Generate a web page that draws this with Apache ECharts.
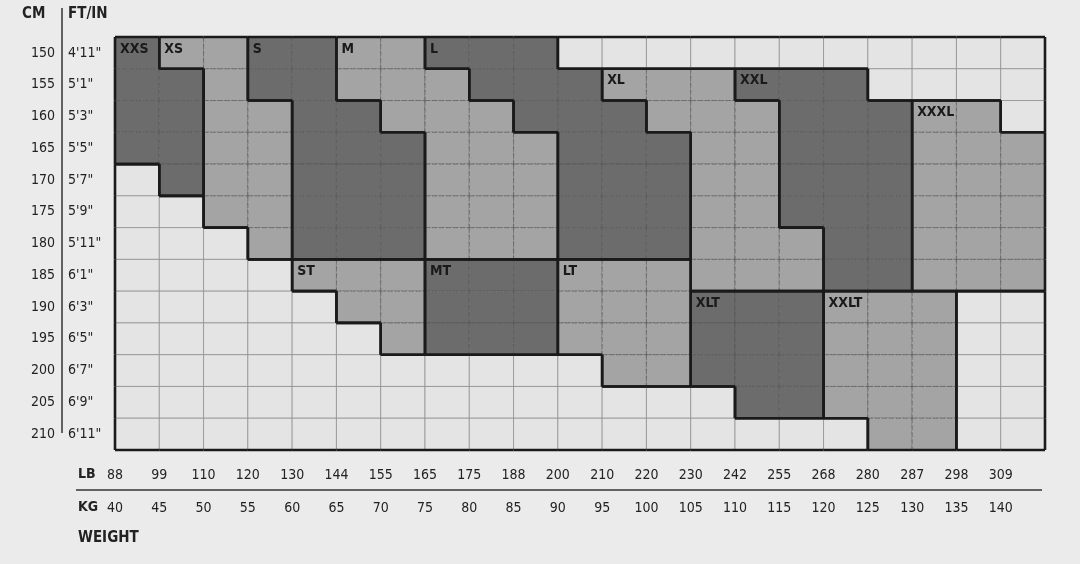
<!DOCTYPE html>
<html lang="en">
<head>
<meta charset="UTF-8">
<title>Size chart</title>
<script src="https://cdn.jsdelivr.net/npm/echarts@6/dist/echarts.min.js"></script>
<style>
  body { margin: 0; background: #ebebeb; }
  #main { width: 1080px; height: 564px; }
</style>
</head>
<body>
<div id="main"></div>
<script type="text/javascript">
var cmLabels = ['150','155','160','165','170','175','180','185','190','195','200','205','210'];
var ftLabels = ['4\'11"','5\'1"','5\'3"','5\'5"','5\'7"','5\'9"','5\'11"','6\'1"','6\'3"','6\'5"','6\'7"','6\'9"','6\'11"'];
var kgLabels = [40,45,50,55,60,65,70,75,80,85,90,95,100,105,110,115,120,125,130,135,140];
var lbLabels = [88,99,110,120,130,144,155,165,175,188,200,210,220,230,242,255,268,280,287,298,309];

// size regions: shade (1 = mid, 2 = dark), cells as [column, firstRow, lastRow]
var sizeNames = ['XXS','XS','S','M','L','XL','XXL','XXXL','ST','MT','LT','XLT','XXLT'];
var sizeShade = [2,1,2,1,2,1,2,1,1,2,1,2,1];
var sizeCells = [
  [[0,0,3],[1,1,4]],
  [[1,0,0],[2,0,5],[3,2,6]],
  [[3,0,1],[4,0,6],[5,2,6],[6,3,6]],
  [[5,0,1],[6,0,2],[7,1,6],[8,2,6],[9,3,6]],
  [[7,0,0],[8,0,1],[9,0,2],[10,1,6],[11,2,6],[12,3,6]],
  [[11,1,1],[12,1,2],[13,1,7],[14,2,7],[15,6,7]],
  [[14,1,1],[15,1,5],[16,1,7],[17,2,7]],
  [[18,2,7],[19,2,7],[20,3,7]],
  [[4,7,7],[5,7,8],[6,7,9]],
  [[7,7,9],[8,7,9],[9,7,9]],
  [[10,7,9],[11,7,10],[12,7,10]],
  [[13,8,10],[14,8,11],[15,8,11]],
  [[16,8,11],[17,8,12],[18,8,12]]
];

var nCols = kgLabels.length, nRows = cmLabels.length;
var owner = [];
for (var c = 0; c < nCols; c++) { owner.push([]); for (var r = 0; r < nRows; r++) owner[c].push(-1); }
sizeCells.forEach(function (list, k) {
  list.forEach(function (s) { for (var r = s[1]; r <= s[2]; r++) owner[s[0]][r] = k; });
});
var cells = [];
for (var c = 0; c < nCols; c++) for (var r = 0; r < nRows; r++) cells.push([c, r, owner[c][r]]);

var shadeColor = ['#e4e4e4', '#a4a4a4', '#6c6c6c'];
var font = 'DejaVu Sans Condensed, Roboto, sans-serif';

function getOwner(c, r) {
  if (c < 0 || r < 0 || c >= nCols || r >= nRows) return -2;
  return owner[c][r];
}

var myChart = echarts.init(document.getElementById('main'));
var option = {
  backgroundColor: '#ebebeb',
  animation: false,
  grid: { left: 115, right: 35, top: 37, bottom: 114 },
  xAxis: [
    { type: 'category', data: kgLabels, show: false },
    { type: 'value', min: 0, max: 21, interval: 1, position: 'bottom',
      axisLine: { show: false }, axisTick: { show: false }, splitLine: { show: false },
      axisLabel: { margin: 18, color: '#222', fontSize: 14, fontFamily: font,
        formatter: function (v) { return lbLabels[v] !== undefined ? lbLabels[v] : ''; } } },
    { type: 'value', min: 0, max: 21, interval: 1, position: 'bottom', offset: 33,
      axisLine: { show: false }, axisTick: { show: false }, splitLine: { show: false },
      axisLabel: { margin: 18, color: '#222', fontSize: 14, fontFamily: font,
        formatter: function (v) { return kgLabels[v] !== undefined ? kgLabels[v] : ''; } } }
  ],
  yAxis: [
    { type: 'category', data: cmLabels, inverse: true,
      axisLine: { show: false }, axisTick: { show: false },
      axisLabel: { margin: 60, fontSize: 14, color: '#222', fontFamily: font } },
    { type: 'category', data: ftLabels, inverse: true, position: 'left',
      axisLine: { show: false }, axisTick: { show: false },
      axisLabel: { margin: 47, align: 'left', fontSize: 14, color: '#222', fontFamily: font } }
  ],
  graphic: [
    { type: 'text', left: 22, top: 7, style: { text: 'CM', font: 'bold 15px "DejaVu Sans Condensed", sans-serif', fill: '#222' } },
    { type: 'text', left: 68, top: 7, style: { text: 'FT/IN', font: 'bold 15px "DejaVu Sans Condensed", sans-serif', fill: '#222' } },
    { type: 'line', shape: { x1: 62, y1: 8, x2: 62, y2: 433 }, style: { stroke: '#333', lineWidth: 1.5 } },
    { type: 'text', left: 78, top: 467, style: { text: 'LB', font: 'bold 14px "DejaVu Sans Condensed", sans-serif', fill: '#222' } },
    { type: 'text', left: 78, top: 500, style: { text: 'KG', font: 'bold 14px "DejaVu Sans Condensed", sans-serif', fill: '#222' } },
    { type: 'line', shape: { x1: 76, y1: 490, x2: 1042, y2: 490 }, style: { stroke: '#333', lineWidth: 1.5 } },
    { type: 'text', left: 78, top: 531, style: { text: 'WEIGHT', font: 'bold 15px "DejaVu Sans Condensed", sans-serif', fill: '#222' } }
  ],
  series: [{
    type: 'custom',
    data: cells,
    renderItem: function (params, api) {
      var c = api.value(0), r = api.value(1), k = api.value(2);
      var p = api.coord([c, r]);
      var sz = api.size([1, 1]);
      var x0 = p[0] - sz[0] / 2, y0 = p[1] - sz[1] / 2, x1 = x0 + sz[0], y1 = y0 + sz[1];
      var fill = k < 0 ? shadeColor[0] : shadeColor[sizeShade[k]];
      var children = [{
        type: 'rect', shape: { x: x0, y: y0, width: sz[0], height: sz[1] },
        style: { fill: fill, stroke: k < 0 ? '#8a8a8a' : '#555', lineWidth: 0.7, lineDash: k < 0 ? null : [5, 2] }
      }];
      var thick = { stroke: '#1a1a1a', lineWidth: 2.6 };
      if (getOwner(c + 1, r) !== k) children.push({ type: 'line', shape: { x1: x1, y1: y0, x2: x1, y2: y1 }, style: thick, z2: 5 });
      if (getOwner(c, r + 1) !== k) children.push({ type: 'line', shape: { x1: x0, y1: y1, x2: x1, y2: y1 }, style: thick, z2: 5 });
      if (getOwner(c - 1, r) !== k) children.push({ type: 'line', shape: { x1: x0, y1: y0, x2: x0, y2: y1 }, style: thick, z2: 5 });
      if (getOwner(c, r - 1) !== k) children.push({ type: 'line', shape: { x1: x0, y1: y0, x2: x1, y2: y0 }, style: thick, z2: 5 });
      if (k >= 0) {
        var first = sizeCells[k][0];
        if (first[0] === c && first[1] === r) {
          children.push({ type: 'text', x: x0 + 5, y: y0 + 5, z2: 6,
            style: { text: sizeNames[k], font: 'bold 14px "DejaVu Sans Condensed", sans-serif', fill: '#1a1a1a' } });
        }
      }
      return { type: 'group', children: children };
    }
  }]
};
myChart.setOption(option);
</script>
</body>
</html>
